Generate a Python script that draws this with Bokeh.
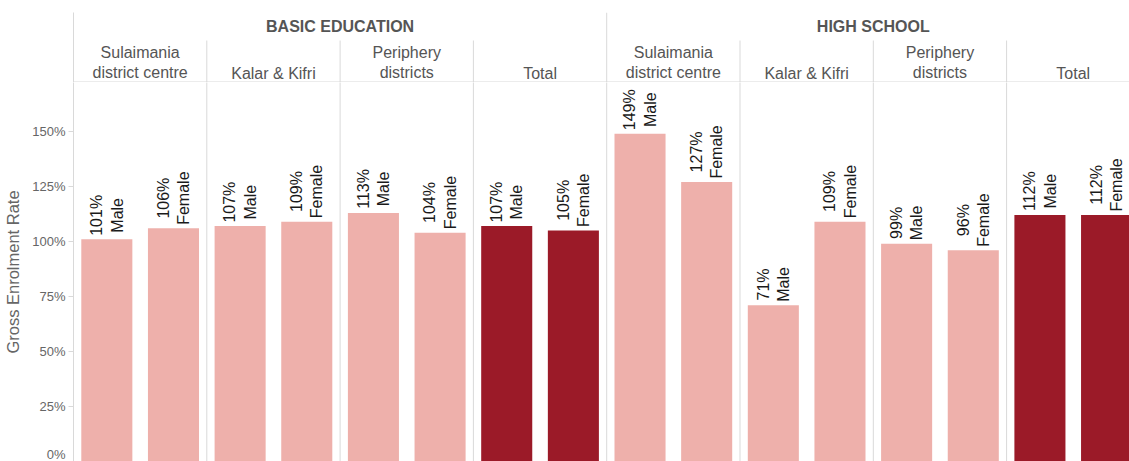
import math
from bokeh.plotting import figure
from bokeh.layouts import column
from bokeh.models import Range1d, FixedTicker, PrintfTickFormatter, ColumnDataSource
from bokeh.core.properties import value
from bokeh.embed import file_html
from bokeh.resources import INLINE

# ---------------- data ----------------
levels = ["BASIC EDUCATION", "HIGH SCHOOL"]
regions = ["Sulaimania\ndistrict centre", "Kalar & Kifri", "Periphery\ndistricts", "Total"]
genders = ["Male", "Female"]
basic_male = [101, 107, 113, 107]
basic_female = [106, 109, 104, 105]
high_male = [149, 71, 99, 112]
high_female = [127, 109, 96, 112]
y_ticks = [0, 25, 50, 75, 100, 125, 150]
y_title = "Gross Enrolment Rate"

# ---------------- style ----------------
FONT = "Liberation Sans"
LIGHT = "#EEB0AB"
DARK = "#9B1A28"
GRID = "#D9D9D9"
HEAD = "#555555"
W = 1129
LEFT = 73
X_END = (W - LEFT) / 133.3
BAR_W = 0.383

values = {
    (0, 0): basic_male, (0, 1): basic_female,
    (1, 0): high_male, (1, 1): high_female,
}

CW = {str(d): .556 for d in range(10)}
CW.update({'%': .889, 'M': .833, 'a': .556, 'l': .222, 'e': .556, 'F': .611, 'm': .833})


def text_w(s, size=16):
    return sum(CW.get(c, .556) for c in s) * size


xs, ys, colors, labels, yoffs = [], [], [], [], []
for li, lev in enumerate(levels):
    for ri, reg in enumerate(regions):
        for gi, g in enumerate(genders):
            v = values[(li, gi)][ri]
            xs.append(li * len(regions) + ri + (0.25 if gi == 0 else 0.75))
            ys.append(v)
            colors.append(DARK if reg == "Total" else LIGHT)
            lab = f"{v}%\n{g}"
            labels.append(lab)
            yoffs.append(-(3.5 + max(text_w(t) for t in lab.split("\n")) / 2))

src = ColumnDataSource(dict(x=xs, top=ys, color=colors, label=labels, yoff=yoffs))
ncells = len(levels) * len(regions)
xr = Range1d(0, X_END)

# ---------------- header figure ----------------
h = figure(width=W, height=82, x_range=xr, y_range=Range1d(0, 70),
           output_backend="svg", toolbar_location=None, x_axis_location=None,
           min_border_left=LEFT, min_border_right=0, min_border_top=12, min_border_bottom=0)
h.outline_line_color = None
h.grid.visible = False
h.yaxis.major_tick_line_color = None
h.yaxis.minor_tick_line_color = None
h.yaxis.major_label_text_font_size = "0px"
h.yaxis.axis_line_color = GRID
h.yaxis.ticker = FixedTicker(ticks=[])

bx = [i for i in range(1, ncells)]
h.segment(x0=bx, x1=bx, y0=[0] * len(bx),
          y1=[70 if i % len(regions) == 0 else 42 for i in bx], line_color=GRID, line_width=1)
h.segment(x0=[0], x1=[X_END], y0=[0.5], y1=[0.5], line_color=GRID, line_width=1)

h.text(x=[li * len(regions) + len(regions) / 2 for li in range(len(levels))], y=[56.5] * len(levels),
       text=levels, text_align="center", text_baseline="middle",
       text_font=value(FONT), text_font_size="16px", text_font_style="bold", text_color=HEAD)
h.text(x=[li * len(regions) + ri + 0.5 for li in range(len(levels)) for ri in range(len(regions))],
       y=[1] * ncells,
       text=[r for _ in levels for r in regions], text_align="center", text_baseline="bottom",
       text_font=value(FONT), text_font_size="16px", text_color=HEAD, text_line_height=1.2)

# ---------------- main figure ----------------
p = figure(width=W, height=379, x_range=xr, y_range=Range1d(0, 379 / 2.2),
           output_backend="svg", toolbar_location=None, x_axis_location=None,
           min_border_left=LEFT, min_border_right=0, min_border_top=0, min_border_bottom=0)
p.outline_line_color = None
p.grid.visible = False
p.yaxis.ticker = FixedTicker(ticks=y_ticks)
p.yaxis.formatter = PrintfTickFormatter(format="%d%%")
p.yaxis.axis_line_color = GRID
p.yaxis.major_tick_line_color = GRID
p.yaxis.major_tick_out = 5
p.yaxis.major_tick_in = 0
p.yaxis.minor_tick_line_color = None
p.yaxis.major_label_text_font = FONT
p.yaxis.major_label_text_font_size = "13px"
p.yaxis.major_label_text_color = "#666666"
p.yaxis.major_label_standoff = 3
p.yaxis.axis_label = y_title
p.yaxis.axis_label_text_font = FONT
p.yaxis.axis_label_text_font_size = "16.5px"
p.yaxis.axis_label_text_font_style = "normal"
p.yaxis.axis_label_text_color = "#666666"
p.yaxis.axis_label_standoff = 7

p.segment(x0=bx, x1=bx, y0=[0] * len(bx), y1=[400] * len(bx), line_color=GRID, line_width=1)
p.vbar(x="x", top="top", bottom=0, width=BAR_W, color="color", source=src, line_color=None)
p.text(x="x", y="top", text="label", source=src, angle=math.pi / 2, y_offset="yoff",
       text_align="center", text_baseline="middle", text_font=value(FONT),
       text_font_size="16px", text_color="#1a1a1a", text_line_height=1.2)

layout = column(h, p, spacing=0)
open("out.html", "w").write(file_html(layout, INLINE))
